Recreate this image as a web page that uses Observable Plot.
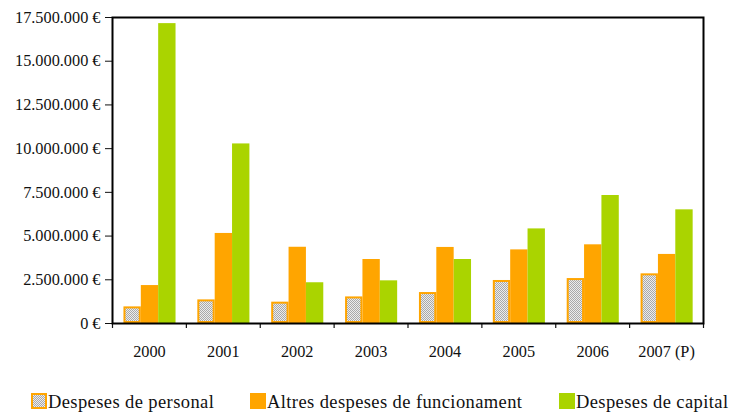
<!DOCTYPE html>
<html>
<head>
<meta charset="utf-8">
<script src="https://cdn.jsdelivr.net/npm/d3@7"></script>
<script src="https://cdn.jsdelivr.net/npm/@observablehq/plot@0.6"></script>
<style>
  html, body { margin: 0; padding: 0; background: #fff; }
  #chart { width: 732px; }
  svg { display: block; }
  #chart svg, #chart svg text { font-family: "Liberation Serif", "DejaVu Serif", serif !important; }
  #chart svg.mainplot text { font-size: 16.3px !important; }
</style>
</head>
<body>
<div id="chart"></div>
<script>
// ---- data ----
const years = ["2000", "2001", "2002", "2003", "2004", "2005", "2006", "2007 (P)"];
const seriesNames = ["Despeses de personal", "Altres despeses de funcionament", "Despeses de capital"];
const personal = [950000, 1350000, 1220000, 1520000, 1770000, 2460000, 2570000, 2840000];
const altres   = [2170000, 5150000, 4360000, 3660000, 4350000, 4210000, 4500000, 3950000];
const capital  = [17150000, 10270000, 2330000, 2440000, 3660000, 5410000, 7320000, 6500000];
const yTicks = [0, 2500000, 5000000, 7500000, 10000000, 12500000, 15000000, 17500000];

const ORANGE = "#ffa500";
const GREEN = "#aad400";
const FONT = "Liberation Serif";

const locale = d3.formatLocale({decimal: ",", thousands: ".", grouping: [3], currency: ["", " €"]});
const fmt = locale.format("$,.0f");

const idx = years.map((_, i) => i);
const start = 0.155, bw = 0.235;
const seriesValues = [personal, altres, capital];
const bar = (k, opts) => Plot.rectY(idx, {
  x1: i => i + start + k * bw,
  x2: i => i + start + (k + 1) * bw,
  y1: 0,
  y2: i => seriesValues[k][i],
  ...opts
});

const plot = Plot.plot({
  width: 732,
  height: 380,
  marginLeft: 112,
  marginRight: 29,
  marginTop: 17,
  marginBottom: 57,
  style: {fontFamily: FONT, fontSize: "16.3px", color: "#111", background: "#fff"},
  x: {type: "linear", domain: [0, years.length], axis: null},
  y: {domain: [0, 17500000], ticks: yTicks, tickFormat: fmt, tickSize: 7, tickPadding: 5, label: null},
  marks: [
    bar(0, {fill: "url(#chk)", stroke: ORANGE, strokeWidth: 2, inset: 1}),
    bar(1, {fill: ORANGE}),
    bar(2, {fill: GREEN}),
    Plot.ruleX(d3.range(years.length + 1), {x: d => d, y1: 0, y2: 0, insetBottom: -5, stroke: "#111", strokeWidth: 1.2}),
    Plot.text(idx, {x: i => i + 0.5, y: 0, text: i => years[i], dy: 28, fill: "#111"}),
    Plot.frame({stroke: "#000", strokeWidth: 2})
  ]
});
plot.classList.add("mainplot");

// checker pattern for "Despeses de personal"
const defsMarkup = `<defs>
  <pattern id="chk" width="2" height="2" patternUnits="userSpaceOnUse">
    <rect width="2" height="2" fill="#ececec"/>
    <rect width="1" height="1" fill="#a9a9a9"/>
    <rect x="1" y="1" width="1" height="1" fill="#a9a9a9"/>
  </pattern>
</defs>`;
plot.insertAdjacentHTML("afterbegin", defsMarkup);
document.getElementById("chart").appendChild(plot);

// ---- legend (below the chart) ----
const legendX = [31, 250, 559];
const legend = d3.create("svg").attr("width", 732).attr("height", 33)
  .style("font-size", "18.5px");
legend.html(defsMarkup.replace('id="chk"', 'id="chk2"'));
const fills = ["url(#chk2)", ORANGE, GREEN];
seriesNames.forEach((name, k) => {
  const g = legend.append("g").attr("transform", `translate(${legendX[k]},0)`);
  g.append("rect").attr("x", k === 0 ? 1 : 0).attr("y", k === 0 ? 14 : 13)
    .attr("width", k === 0 ? 14 : 16).attr("height", k === 0 ? 14 : 16)
    .attr("fill", fills[k])
    .attr("stroke", k === 0 ? ORANGE : "none").attr("stroke-width", 2);
  g.append("text").attr("x", 17).attr("y", 28).attr("fill", "#111")
    .style("letter-spacing", "0.4px").text(name);
});
document.getElementById("chart").appendChild(legend.node());
</script>
</body>
</html>
